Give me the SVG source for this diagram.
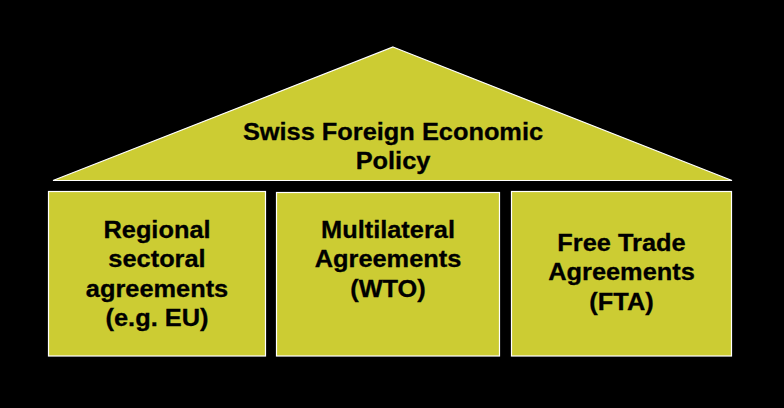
<svg xmlns="http://www.w3.org/2000/svg" width="784" height="408" viewBox="0 0 784 408">
<style>
.shape{fill:#cccc33;stroke:#ffffff;stroke-width:1.2}
.lbl{font-family:"Liberation Sans",Arial,sans-serif;font-weight:bold;font-size:23.5px;fill:#000000;stroke:#000000;stroke-width:0.3;text-anchor:middle}
</style>
<rect width="784" height="408" fill="#000000"/>
<g id="roof">
<polygon class="shape" points="393,47 732,180.5 53,180.5"/>
<g transform="translate(393,0) scale(1.08,1)">
<text class="lbl"><tspan x="0" y="140">Swiss Foreign Economic</tspan><tspan x="0" y="169">Policy</tspan></text>
</g>
</g>
<g id="regional">
<rect class="shape" x="48.5" y="191.5" width="217" height="164.5"/>
<g transform="translate(157,0) scale(1.08,1)">
<text class="lbl"><tspan x="0" y="238">Regional</tspan><tspan x="0" y="267.5">sectoral</tspan><tspan x="0" y="297">agreements</tspan><tspan x="0" y="326.5">(e.g. EU)</tspan></text>
</g>
</g>
<g id="multilateral">
<rect class="shape" x="276.5" y="192.5" width="223" height="163.5"/>
<g transform="translate(388,0) scale(1.08,1)">
<text class="lbl"><tspan x="0" y="238">Multilateral</tspan><tspan x="0" y="267.5">Agreements</tspan><tspan x="0" y="297">(WTO)</tspan></text>
</g>
</g>
<g id="fta">
<rect class="shape" x="511.5" y="191.5" width="220" height="164.5"/>
<g transform="translate(621.5,0) scale(1.08,1)">
<text class="lbl"><tspan x="0" y="251">Free Trade</tspan><tspan x="0" y="280.5">Agreements</tspan><tspan x="0" y="310">(FTA)</tspan></text>
</g>
</g>
<g id="connectors"></g>
</svg>
